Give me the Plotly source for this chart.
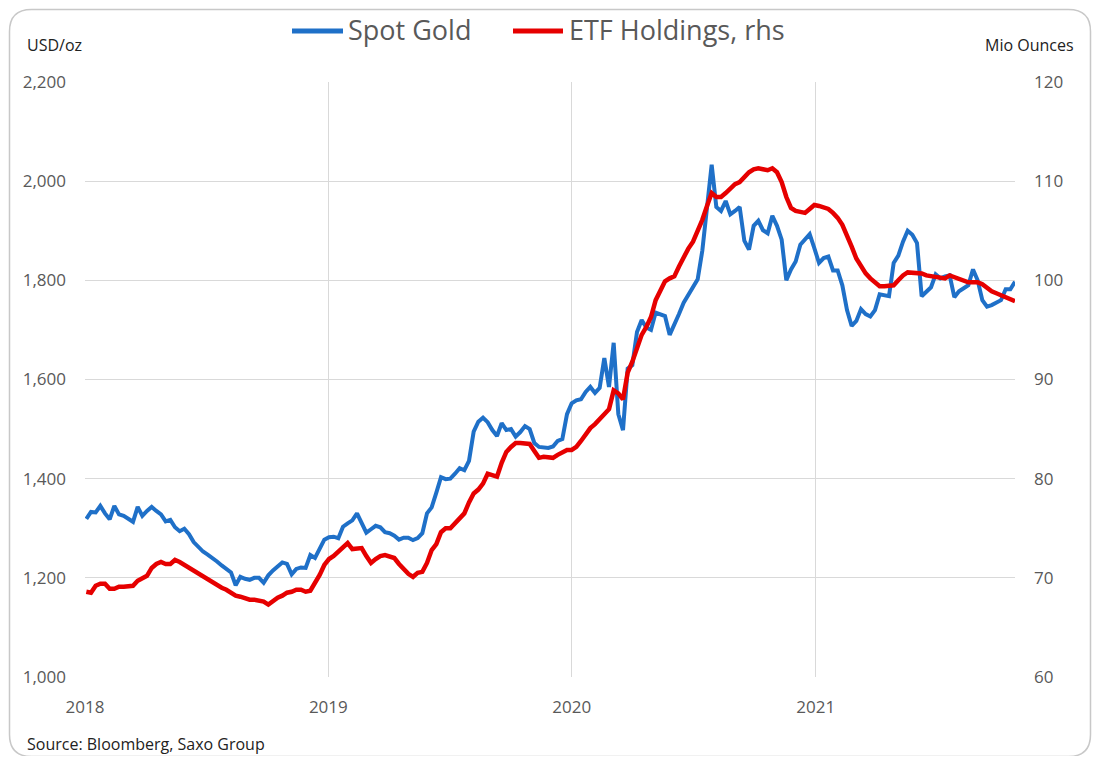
import pandas as pd
import plotly.graph_objects as go

# Weekly observations, Jan 2018 - Oct 2021
dates = pd.date_range("2018-01-03", periods=200, freq="7D")

spot_gold = [
    1319, 1333, 1332, 1345, 1330, 1318, 1345, 1328, 1325, 1320,
    1313, 1343, 1325, 1335, 1343, 1335, 1328, 1314, 1317, 1302,
    1294, 1299, 1288, 1272, 1262, 1253, 1247, 1241, 1233, 1225,
    1218, 1211, 1185, 1202, 1198, 1196, 1200, 1200, 1190, 1205,
    1215, 1224, 1231, 1228, 1207, 1218, 1221, 1220, 1246, 1240,
    1260, 1277, 1282, 1283, 1280, 1303, 1310, 1316, 1330, 1310,
    1291, 1298, 1305, 1302, 1292, 1290, 1285, 1277, 1281, 1281,
    1276, 1280, 1290, 1330, 1342, 1372, 1403, 1399, 1400, 1410,
    1421, 1417, 1436, 1495, 1515, 1523, 1514, 1498, 1486, 1512,
    1498, 1500, 1485, 1494, 1506, 1500, 1472, 1464, 1463, 1462,
    1465, 1476, 1480, 1530, 1552, 1558, 1560, 1575, 1585, 1573,
    1583, 1643, 1585, 1674, 1530, 1498, 1622, 1629, 1696, 1720,
    1705, 1700, 1735, 1732, 1728, 1690, 1710, 1732, 1755, 1772,
    1786, 1802, 1860, 1940, 2033, 1948, 1940, 1960, 1933, 1940,
    1948, 1880, 1862, 1910, 1920, 1901, 1895, 1930, 1910, 1882,
    1800, 1822, 1838, 1872, 1882, 1893, 1865, 1835, 1845, 1848,
    1820, 1820, 1790, 1740, 1708, 1718, 1742, 1732, 1727, 1740,
    1772, 1770, 1768, 1835, 1850, 1878, 1900, 1892, 1875, 1768,
    1778, 1786, 1812, 1804, 1808, 1810, 1766, 1778, 1784, 1790,
    1822, 1800, 1760, 1747, 1750, 1755, 1760, 1782, 1782, 1797,
]

etf_holdings = [
    68.6, 68.5, 69.2, 69.4, 69.4, 68.9, 68.9, 69.1, 69.1, 69.1,
    69.2, 69.7, 70.0, 70.2, 71.0, 71.4, 71.6, 71.4, 71.4, 71.8,
    71.6, 71.3, 71.0, 70.7, 70.4, 70.1, 69.8, 69.5, 69.3, 69.0,
    68.8, 68.5, 68.2, 68.1, 67.9, 67.8, 67.8, 67.7, 67.6, 67.3,
    67.7, 68.0, 68.2, 68.5, 68.6, 68.8, 68.8, 68.6, 68.7, 69.4,
    70.3, 71.3, 71.9, 72.2, 72.6, 73.1, 73.5, 72.9, 72.9, 73.0,
    72.2, 71.5, 71.9, 72.2, 72.3, 72.2, 72.0, 71.4, 70.9, 70.4,
    70.1, 70.5, 70.6, 71.5, 72.8, 73.4, 74.6, 75.0, 75.0, 75.5,
    75.9, 76.5, 77.6, 78.5, 78.9, 79.5, 80.5, 80.3, 80.2, 81.6,
    82.7, 83.2, 83.6, 83.6, 83.6, 83.5, 82.8, 82.1, 82.2, 82.2,
    82.1, 82.4, 82.6, 82.9, 82.9, 83.2, 83.8, 84.5, 85.1, 85.5,
    86.0, 86.5, 87.0, 88.9, 88.6, 88.0, 90.7, 91.8, 93.1, 94.5,
    95.3, 96.3, 98.0, 99.0, 99.9, 100.2, 100.4, 101.4, 102.4, 103.2,
    103.9, 104.9, 106.1, 107.5, 108.8, 108.4, 108.4, 108.8, 109.3, 109.7,
    109.9, 110.4, 110.9, 111.2, 111.3, 111.2, 111.1, 111.3, 110.9, 109.9,
    108.4, 107.3, 107.0, 106.9, 106.8, 107.2, 107.6, 107.5, 107.4, 107.2,
    106.8, 106.3, 105.6, 104.6, 103.4, 102.2, 101.4, 100.7, 100.2, 99.8,
    99.4, 99.4, 99.5, 99.5, 100.0, 100.5, 100.8, 100.8, 100.8, 100.7,
    100.5, 100.4, 100.3, 100.2, 100.2, 100.5, 100.3, 100.2, 100.0, 99.8,
    99.8, 99.8, 99.6, 99.2, 98.9, 98.7, 98.5, 98.2, 98.1, 97.9,
]

series_names = ["Spot Gold", "ETF Holdings, rhs"]
series_colors = ["#1F70C8", "#E60000"]
year_ticks = ["2018-01-01", "2019-01-01", "2020-01-01", "2021-01-01"]
year_labels = ["2018", "2019", "2020", "2021"]
usd_ticks = [1000, 1200, 1400, 1600, 1800, 2000, 2200]
mio_ticks = [60, 70, 80, 90, 100, 110, 120]

# The page body adds an 8px margin, so the figure is sized to fit inside it.
OFF = 8
W, H = 1100 - 2 * OFF, 764 - 2 * OFF
# plot area in screen pixels
SL, SR, ST, SB = 85, 1015, 82, 677
L, R, T, B = SL - OFF, SR - OFF, ST - OFF, SB - OFF


def px(x):  # screen x -> paper
    return (x - SL) / (SR - SL)


def py(y):  # screen y -> paper
    return (SB - y) / (SB - ST)


GRAY = "#595959"
FONT = "Open Sans"

fig = go.Figure()
fig.add_trace(go.Scatter(
    x=dates, y=spot_gold, name=series_names[0], mode="lines",
    line=dict(color=series_colors[0], width=4), yaxis="y",
))
fig.add_trace(go.Scatter(
    x=dates, y=etf_holdings, name=series_names[1], mode="lines",
    line=dict(color=series_colors[1], width=4.5), yaxis="y2",
))

# rounded border path (screen coords)
x0, x1, y0, y1, r = 9.5, 1090.5, 9.5, 756.5, 22
path = (
    f"M {px(x0 + r)},{py(y0)} L {px(x1 - r)},{py(y0)} "
    f"Q {px(x1)},{py(y0)} {px(x1)},{py(y0 + r)} "
    f"L {px(x1)},{py(y1 - r)} Q {px(x1)},{py(y1)} {px(x1 - r)},{py(y1)} "
    f"L {px(x0 + r)},{py(y1)} Q {px(x0)},{py(y1)} {px(x0)},{py(y1 - r)} "
    f"L {px(x0)},{py(y0 + r)} Q {px(x0)},{py(y0)} {px(x0 + r)},{py(y0)} Z"
)

shapes = [dict(
    type="path", path=path, xref="paper", yref="paper",
    line=dict(color="#c8c8c8", width=1.5), fillcolor="rgba(0,0,0,0)",
    layer="below",
)]

annotations = [
    dict(text="USD/oz", x=px(25), y=py(45), xref="paper", yref="paper",
         xanchor="left", yanchor="middle", showarrow=False,
         font=dict(size=16, color="#222222", family=FONT)),
    dict(text="Mio Ounces", x=px(1076), y=py(45), xref="paper", yref="paper",
         xanchor="right", yanchor="middle", showarrow=False,
         font=dict(size=16, color="#222222", family=FONT)),
    dict(text="Source: Bloomberg, Saxo Group", x=px(25), y=py(744),
         xref="paper", yref="paper", xanchor="left", yanchor="middle",
         showarrow=False, font=dict(size=16, color="#222222", family=FONT)),
]

# manual legend (kept inside the top margin)
legend_pos = [(292, 343, 346), (513, 563, 567)]
for (lx0, lx1, tx), name, col in zip(legend_pos, series_names, series_colors):
    shapes.append(dict(type="line", xref="paper", yref="paper",
                       x0=px(lx0), x1=px(lx1), y0=py(31), y1=py(31),
                       line=dict(color=col, width=5)))
    annotations.append(dict(text=name, x=px(tx), y=py(29), xref="paper",
                            yref="paper", xanchor="left", yanchor="middle",
                            showarrow=False,
                            font=dict(size=27, color=GRAY, family=FONT)))

fig.update_layout(
    width=W, height=H,
    margin=dict(l=L, r=W - R, t=T, b=H - B, pad=0, autoexpand=False),
    paper_bgcolor="white", plot_bgcolor="white",
    font=dict(family=FONT, color=GRAY),
    showlegend=False,
    xaxis=dict(
        type="date", range=["2018-01-01", "2021-10-27"],
        tickvals=year_ticks, ticktext=year_labels, automargin=False,
        showgrid=True, gridcolor="#d9d9d9", gridwidth=1.2,
        zeroline=False, showline=False, ticks="",
        tickfont=dict(size=17, color=GRAY), ticklabelstandoff=18,
    ),
    yaxis=dict(
        range=[1000, 2200], tickvals=usd_ticks, tickformat=",", automargin=False,
        showgrid=True, gridcolor="#d9d9d9", gridwidth=1.2,
        zeroline=False, showline=False, ticks="",
        tickfont=dict(size=17, color=GRAY), ticklabelstandoff=18,
    ),
    yaxis2=dict(
        range=[60, 120], tickvals=mio_ticks, overlaying="y", side="right",
        automargin=False,
        showgrid=False, zeroline=False, showline=False, ticks="",
        tickfont=dict(size=17, color=GRAY), ticklabelstandoff=18,
    ),
    shapes=shapes,
    annotations=annotations,
)

fig.write_html("out.html")
